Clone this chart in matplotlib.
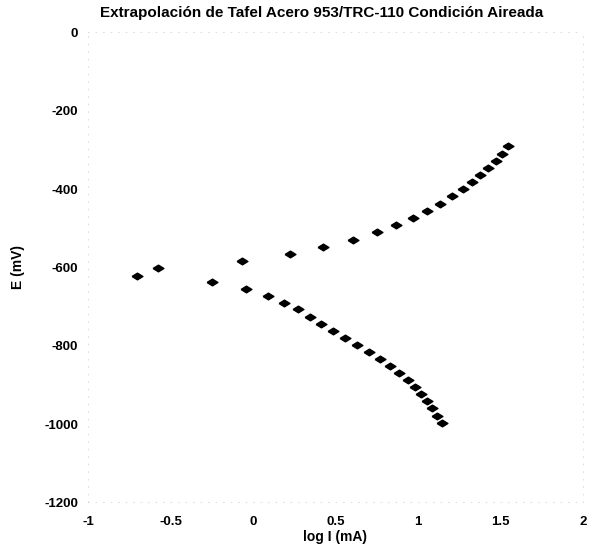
import matplotlib.pyplot as plt

plt.rcParams['font.family'] = ['Liberation Sans', 'DejaVu Sans']
plt.rcParams['axes.unicode_minus'] = False

# rama anodica
log_i_anod = [-0.705, -0.578, -0.067, 0.222, 0.426, 0.604, 0.75, 0.865, 0.972, 1.053,
              1.135, 1.207, 1.271, 1.326, 1.377, 1.427, 1.473, 1.507, 1.547]
e_anod = [-621, -602, -584, -566, -548, -529, -510, -491, -474, -455,
          -437, -418, -401, -383, -364, -347, -328, -310, -290]

# rama catodica
log_i_cat = [-0.248, -0.044, 0.089, 0.19, 0.275, 0.343, 0.415, 0.485, 0.56, 0.632, 0.704,
             0.767, 0.83, 0.885, 0.938, 0.984, 1.018, 1.053, 1.087, 1.113, 1.145]
e_cat = [-637, -654, -673, -690, -707, -727, -745, -762, -781, -797, -816,
         -834, -852, -869, -888, -906, -923, -940, -960, -979, -997]

xticks = [-1, -0.5, 0, 0.5, 1, 1.5, 2]
xticklabels = ['-1', '-0.5', '0', '0.5', '1', '1.5', '2']
yticks = [0, -200, -400, -600, -800, -1000, -1200]

fig = plt.figure(figsize=(5.89, 5.45), dpi=100)
ax = fig.add_axes([0.1494, 0.0783, 0.8404, 0.8621])

rombo = [(-1, 0), (0, 0.62), (1, 0), (0, -0.62), (-1, 0)]
for x, y in [(log_i_anod, e_anod), (log_i_cat, e_cat)]:
    ax.plot(x, y, linestyle='none', marker=rombo, markersize=7.8, color='black')

ax.set_xlim(-1, 2)
ax.set_ylim(-1200, 0)
ax.set_xticks(xticks)
ax.set_xticklabels(xticklabels)
ax.set_yticks(yticks)
ax.tick_params(length=0, labelsize=9.5)
ax.tick_params(axis='x', pad=10)
ax.tick_params(axis='y', pad=7)
for lbl in ax.get_xticklabels() + ax.get_yticklabels():
    lbl.set_fontweight('bold')

for s in ax.spines.values():
    s.set_color('#d8d8d8')
    s.set_linewidth(0.6)
    s.set_linestyle((0, (1, 8)))

fig.text(0.546, 0.976, 'Extrapolación de Tafel Acero 953/TRC-110 Condición Aireada',
         ha='center', va='center', fontsize=11, fontweight='bold')
fig.text(0.569, 0.015, 'log I (mA)', ha='center', va='center', fontsize=10, fontweight='bold')
fig.text(0.031, 0.51, 'E (mV)', ha='center', va='center', rotation=90,
         fontsize=10, fontweight='bold')

fig.savefig('out.png', dpi=100)
